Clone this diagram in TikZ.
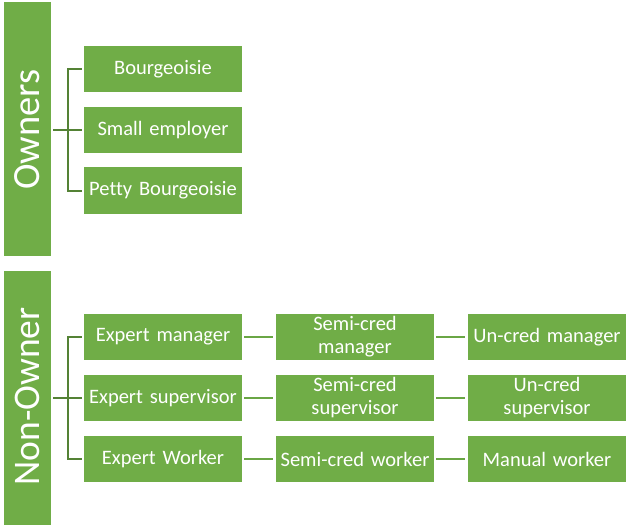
\documentclass[tikz,border=0pt]{standalone}
\usepackage{fontspec}
\setmainfont[Ligatures=NoCommon]{Carlito}
\definecolor{boxgreen}{HTML}{70AD47}
\definecolor{linegreen}{HTML}{548235}
\definecolor{linelight}{HTML}{6AA645}
\begin{document}
\begin{tikzpicture}[x=1pt,y=-1pt,
  leaf/.style={fill=boxgreen,draw=none,text=white,minimum width=158pt,minimum height=46.5pt,
    text width=154pt,align=center,inner sep=0pt,font=\fontsize{20.5}{23}\selectfont},
  bar/.style={fill=boxgreen,draw=none,minimum width=47pt,minimum height=254pt,inner sep=0pt},
  bartext/.style={text=white,rotate=90,inner sep=0pt,font=\fontsize{38.5}{40}\selectfont},
  tree/.style={draw=linegreen,line width=2pt},
  chain/.style={draw=linelight,line width=2pt,shorten <=2pt,shorten >=3pt}]
\useasboundingbox (0,0) rectangle (632,527);
% Owners
\node[bar] (own) at (27.5,129) {};
\node[bartext] (ownt) at (27.5,129.5) {Owners};
\node[leaf] (bour) at (163,69) {Bourgeoisie};
\node[leaf] (small) at (163,130) {Small employer};
\node[leaf] (petty) at (163,190.5) {Petty Bourgeoisie};
\coordinate (j1) at (68,130);
\draw[tree] ([xshift=-2pt]bour.west) -| (j1) |- ([xshift=-2pt]petty.west);
\draw[tree] ([xshift=2pt]own.east |- small.west) -- ([xshift=-2pt]small.west);
% Non-Owner
\node[bar] (non) at (27.5,398) {};
\node[bartext,font=\fontsize{37.5}{39}\selectfont] (nont) at (27.5,396.5) {Non-Owner};
\node[leaf] (em) at (163,337) {Expert manager};
\node[leaf] (es) at (163,398) {Expert supervisor};
\node[leaf] (ew) at (163,459) {Expert Worker};
\node[leaf] (sm) at (355,337) {Semi-cred\\manager};
\node[leaf] (ss) at (355,398) {Semi-cred\\supervisor};
\node[leaf] (sw) at (355,459) {Semi-cred worker};
\node[leaf] (um) at (547,337) {Un-cred manager};
\node[leaf] (us) at (547,398) {Un-cred\\supervisor};
\node[leaf] (mw) at (547,459) {Manual worker};
\coordinate (j2) at (68,398);
\draw[tree] ([xshift=-2pt]em.west) -| (j2) |- ([xshift=-2pt]ew.west);
\draw[tree] ([xshift=2pt]non.east |- es.west) -- ([xshift=-2pt]es.west);
\draw[chain] (em) -- (sm);
\draw[chain] (sm) -- (um);
\draw[chain] (es) -- (ss);
\draw[chain] (ss) -- (us);
\draw[chain] (ew) -- (sw);
\draw[chain] (sw) -- (mw);
\end{tikzpicture}
\end{document}
